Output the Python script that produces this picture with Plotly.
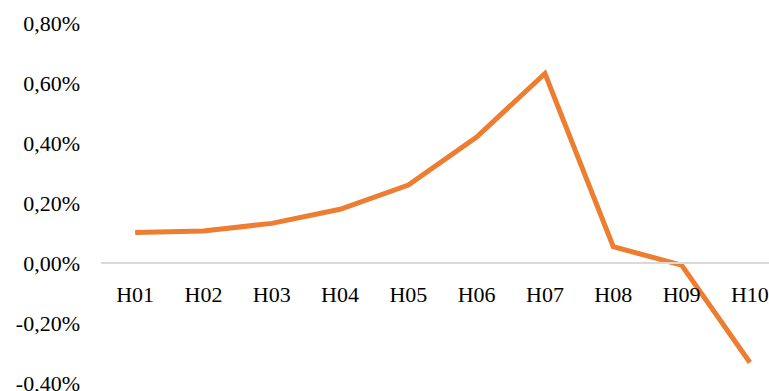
import plotly.graph_objects as go

# Half-year periods and their returns (as fractions)
periods = ["H01", "H02", "H03", "H04", "H05", "H06", "H07", "H08", "H09", "H10"]
returns = [0.00102, 0.00107, 0.00132, 0.00179, 0.00260, 0.00420, 0.00632, 0.00054, -0.00007, -0.00332]

# Y-axis tick values and their labels (decimal comma)
y_ticks = [-0.004, -0.002, 0.0, 0.002, 0.004, 0.006, 0.008]
y_tick_text = ["-0,40%", "-0,20%", "0,00%", "0,20%", "0,40%", "0,60%", "0,80%"]

y_range = [-0.00427, 0.00877]
x_range = [-0.5, 9.28]

# Fraction of the plot height where y = 0, so the category axis crosses there
zero_pos = (0 - y_range[0]) / (y_range[1] - y_range[0])

fig = go.Figure()
fig.add_trace(go.Scatter(
    x=list(range(len(periods))),
    y=returns,
    mode="lines",
    line=dict(color="#ED7D31", width=5),
    hoverinfo="skip",
))

font = dict(family="Liberation Serif, Times New Roman, serif", size=22, color="#000000")

fig.update_layout(
    width=769,
    height=391,
    margin=dict(l=101, r=0, t=0, b=0, autoexpand=False),
    paper_bgcolor="white",
    plot_bgcolor="white",
    showlegend=False,
    font=font,
    xaxis=dict(
        range=x_range,
        tickmode="array",
        tickvals=list(range(len(periods))),
        ticktext=periods,
        showgrid=False,
        zeroline=False,
        showline=True,
        linecolor="#D9D9D9",
        linewidth=1.5,
        anchor="free",
        position=zero_pos,
        ticks="outside",
        ticklen=0,
        ticklabelstandoff=12,
        ticklabeloverflow="allow",
        automargin=False,
        tickfont=font,
    ),
    yaxis=dict(
        range=y_range,
        tickmode="array",
        tickvals=y_ticks,
        ticktext=y_tick_text,
        showgrid=False,
        zeroline=False,
        showline=False,
        ticks="",
        ticklabelstandoff=20,
        ticklabeloverflow="allow",
        automargin=False,
        tickfont=font,
    ),
)

fig.write_html("out.html")
